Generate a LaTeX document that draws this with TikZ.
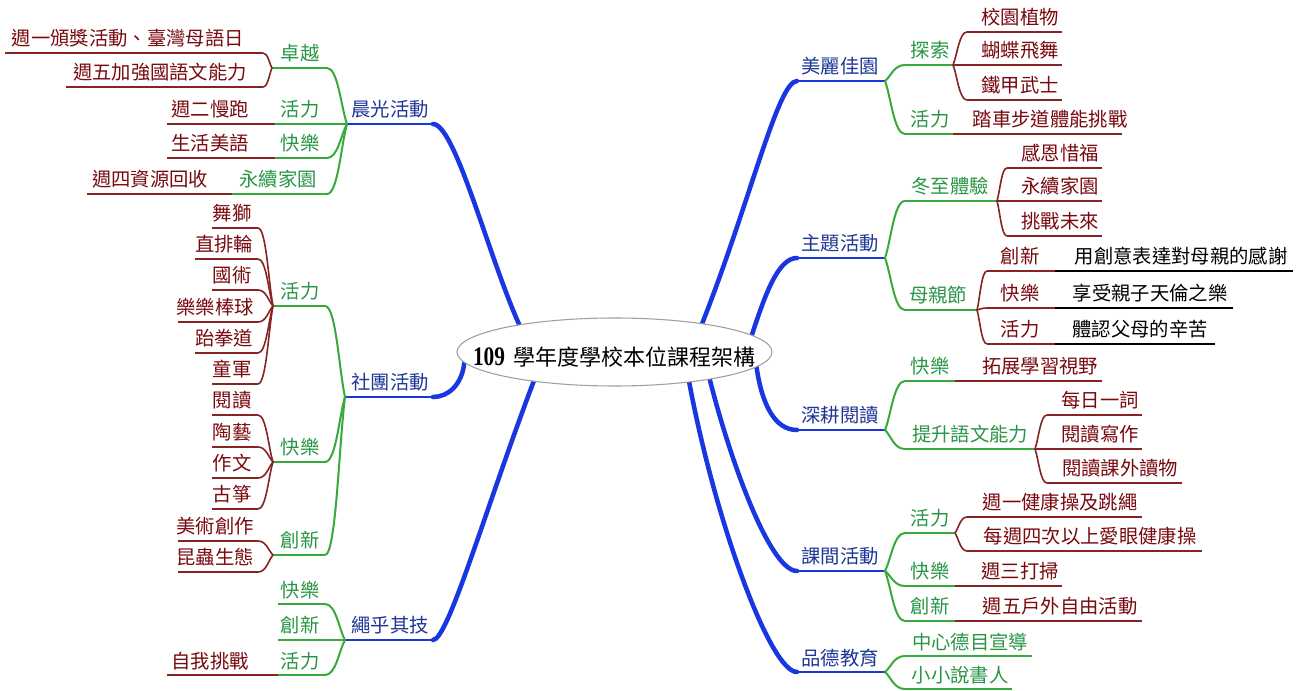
\documentclass[tikz,border=0pt]{standalone}
\usepackage{fontspec}
\usetikzlibrary{shapes.geometric,calc}
\newfontfamily\cjk{Noto Sans CJK TC}
\newfontfamily\numfont[FakeStretch=0.8]{Liberation Serif}
\definecolor{mblue}{RGB}{25,55,225}
\definecolor{tblue}{RGB}{30,55,150}
\definecolor{sgreen}{RGB}{55,170,60}
\definecolor{tgreen}{RGB}{40,150,70}
\definecolor{lred}{RGB}{135,35,35}
\definecolor{tred}{RGB}{120,10,15}
\tikzset{
  mthick/.style={mblue,line width=3.4pt,line cap=round},
  mline/.style={mblue,line width=1.9pt},
  sline/.style={sgreen,line width=1.5pt},
  lline/.style={lred,line width=1.2pt},
  kline/.style={black,line width=1pt},
  basetext/.style={anchor=base,inner sep=0pt,font=\cjk\fontsize{14.5pt}{16pt}\selectfont},
  mtext/.style={basetext,text=tblue},
  stext/.style={basetext,text=tgreen},
  ltext/.style={basetext,text=tred},
  ktext/.style={basetext,text=black},
}
% #1 name, #2 kind, #3 left x, #4 right x, #5 y, #6 text x, #7 text
\newcommand\br[7]{%
  \coordinate (#1-l) at (#3,#5);
  \coordinate (#1-r) at (#4,#5);
  \draw[#2line] (#1-l) -- (#1-r);
  \node[#2text] (#1) at (#6,#5-7) {#7};
}
\newcommand\cn[3]{\draw[#1] (#2) .. controls ($(#2)!0.3!(#3)$) and ($(#3)!0.55!(#2|-#3)$) .. (#3);}
\begin{document}
\begin{tikzpicture}[x=0.75pt,y=-0.75pt]
\useasboundingbox (0,0) rectangle (1304,691);
\fill[white] (0,0) rectangle (1304,691);

% ---------- left main branches
\br{m1}{m}{347}{433}{124}{390}{晨光活動}
\br{m2}{m}{345}{433}{397}{390}{社團活動}
\br{m3}{m}{345}{433}{640}{390}{繩乎其技}
% ---------- right main branches
\br{r1}{m}{797}{885}{81}{840}{美麗佳園}
\br{r2}{m}{797}{885}{258}{840}{主題活動}
\br{r3}{m}{797}{885}{430}{840}{深耕閱讀}
\br{r4}{m}{797}{885}{571}{840}{課間活動}
\br{r5}{m}{797}{885}{672}{840}{品德教育}

% root ellipse (shape only)
\node[ellipse,minimum width=236.25pt,minimum height=51pt,inner sep=0pt] (root) at (614.5,352) {};

\draw[mthick] (root.164) .. controls (488,255) and (455,124) .. (m1-r);
\draw[mthick] (root.184) .. controls (462,385) and (448,397) .. (m2-r);
\draw[mthick] (root.200) .. controls (485,510) and (448,640) .. (m3-r);
\draw[mthick] (root.18) .. controls (750,202) and (778,81) .. (r1-l);
\draw[mthick] (root.7) .. controls (765,295) and (778,258) .. (r2-l);
\draw[mthick] (root.354) .. controls (762,405) and (775,430) .. (r3-l);
\draw[mthick] (root.344) .. controls (730,460) and (770,571) .. (r4-l);
\draw[mthick] (root.338) .. controls (715,520) and (770,672) .. (r5-l);

\node[ellipse,draw=gray!75,fill=white,line width=0.8pt,minimum width=236.25pt,minimum height=51pt,inner sep=0pt] (rootshape) at (614.5,352) {};
\node[anchor=base,inner sep=0pt] (title) at (614,366)
  {\numfont\bfseries\fontsize{20pt}{22pt}\selectfont 109\hspace{6pt}\cjk\mdseries\fontsize{16.5pt}{18pt}\selectfont 學年度學校本位課程架構};

% ---------- 晨光活動
\br{s11}{s}{272}{327}{68}{300}{卓越}
\br{s12}{s}{275}{347}{124}{300}{活力}
\br{s13}{s}{275}{327}{158}{300}{快樂}
\br{s14}{s}{232}{327}{194}{278}{永續家園}
\cn{sline}{m1-l}{s11-r}
\cn{sline}{m1-l}{s13-r}
\cn{sline}{m1-l}{s14-r}
\br{l111}{l}{5}{263}{53}{128}{週一頒獎活動、臺灣母語日}
\br{l112}{l}{66}{263}{87}{160}{週五加強國語文能力}
\cn{lline}{s11-l}{l111-r}
\cn{lline}{s11-l}{l112-r}
\br{l121}{l}{167}{275}{124}{210}{週二慢跑}
\br{l131}{l}{167}{275}{158}{210}{生活美語}
\br{l141}{l}{87}{232}{194}{150}{週四資源回收}

% ---------- 社團活動
\br{s21}{s}{273}{325}{306}{300}{活力}
\br{s22}{s}{273}{325}{462}{300}{快樂}
\br{s23}{s}{273}{325}{555}{300}{創新}
\cn{sline}{m2-l}{s21-r}
\cn{sline}{m2-l}{s22-r}
\cn{sline}{m2-l}{s23-r}
\br{l211}{l}{212}{258}{228}{232}{舞獅}
\br{l212}{l}{195}{258}{259}{224}{直排輪}
\br{l213}{l}{212}{258}{290}{232}{國術}
\br{l214}{l}{178}{258}{322}{215}{樂樂棒球}
\br{l215}{l}{195}{258}{353}{224}{跆拳道}
\br{l216}{l}{212}{258}{384}{232}{童軍}
\foreach \k in {l211,l212,l213,l214,l215,l216}{\cn{lline}{s21-l}{\k-r}}
\br{l221}{l}{212}{258}{415}{232}{閱讀}
\br{l222}{l}{212}{258}{447}{232}{陶藝}
\br{l223}{l}{212}{258}{478}{232}{作文}
\br{l224}{l}{212}{258}{509}{232}{古箏}
\foreach \k in {l221,l222,l223,l224}{\cn{lline}{s22-l}{\k-r}}
\br{l231}{l}{178}{258}{541}{215}{美術創作}
\br{l232}{l}{178}{258}{572}{215}{昆蟲生態}
\foreach \k in {l231,l232}{\cn{lline}{s23-l}{\k-r}}

% ---------- 繩乎其技
\br{s31}{s}{278}{325}{604}{300}{快樂}
\br{s32}{s}{278}{345}{640}{300}{創新}
\br{s33}{s}{278}{325}{675}{300}{活力}
\cn{sline}{m3-l}{s31-r}
\cn{sline}{m3-l}{s33-r}
\br{l331}{l}{167}{278}{675}{210}{自我挑戰}

% ---------- 美麗佳園
\br{t11}{s}{905}{953}{65}{930}{探索}
\br{t12}{s}{905}{953}{134}{930}{活力}
\cn{sline}{r1-r}{t11-l}
\cn{sline}{r1-r}{t12-l}
\br{u111}{l}{967}{1062}{32}{1020}{校園植物}
\br{u112}{l}{953}{1062}{65}{1020}{蝴蝶飛舞}
\br{u113}{l}{967}{1062}{100}{1020}{鐵甲武士}
\cn{lline}{t11-r}{u111-l}
\cn{lline}{t11-r}{u113-l}
\br{u121}{l}{953}{1122}{134}{1050}{踏車步道體能挑戰}

% ---------- 主題活動
\br{t21}{s}{905}{997}{201}{950}{冬至體驗}
\br{t22}{s}{905}{977}{310}{938}{母親節}
\cn{sline}{r2-r}{t21-l}
\cn{sline}{r2-r}{t22-l}
\br{u211}{l}{1007}{1102}{168}{1060}{感恩惜福}
\br{u212}{l}{997}{1102}{201}{1060}{永續家園}
\br{u213}{l}{1007}{1102}{236}{1060}{挑戰未來}
\cn{lline}{t21-r}{u211-l}
\cn{lline}{t21-r}{u213-l}
\br{u221}{l}{987}{1055}{271}{1020}{創新}
\br{u222}{l}{987}{1055}{308}{1020}{快樂}
\br{u223}{l}{987}{1055}{344}{1020}{活力}
\cn{lline}{t22-r}{u221-l}
\cn{lline}{t22-r}{u222-l}
\cn{lline}{t22-r}{u223-l}
\br{v221}{k}{1055}{1293}{271}{1181}{用創意表達對母親的感謝}
\br{v222}{k}{1055}{1233}{308}{1150}{享受親子天倫之樂}
\br{v223}{k}{1055}{1215}{344}{1140}{體認父母的辛苦}

% ---------- 深耕閱讀
\br{t31}{s}{905}{955}{381}{930}{快樂}
\br{t32}{s}{905}{1035}{449}{970}{提升語文能力}
\cn{sline}{r3-r}{t31-l}
\cn{sline}{r3-r}{t32-l}
\br{u311}{l}{955}{1102}{381}{1040}{拓展學習視野}
\br{u321}{l}{1047}{1142}{415}{1100}{每日一詞}
\br{u322}{l}{1035}{1142}{449}{1100}{閱讀寫作}
\br{u323}{l}{1047}{1182}{483}{1120}{閱讀課外讀物}
\cn{lline}{t32-r}{u321-l}
\cn{lline}{t32-r}{u323-l}

% ---------- 課間活動
\br{t41}{s}{905}{955}{533}{930}{活力}
\br{t42}{s}{905}{955}{586}{930}{快樂}
\br{t43}{s}{905}{955}{621}{930}{創新}
\cn{sline}{r4-r}{t41-l}
\cn{sline}{r4-r}{t42-l}
\cn{sline}{r4-r}{t43-l}
\br{u411}{l}{967}{1142}{517}{1060}{週一健康操及跳繩}
\br{u412}{l}{967}{1202}{551}{1090}{每週四次以上愛眼健康操}
\cn{lline}{t41-r}{u411-l}
\cn{lline}{t41-r}{u412-l}
\br{u421}{l}{955}{1062}{586}{1020}{週三打掃}
\br{u431}{l}{955}{1142}{621}{1060}{週五戶外自由活動}

% ---------- 品德教育
\br{t51}{s}{905}{1032}{656}{970}{中心德目宣導}
\br{t52}{s}{905}{1012}{689}{960}{小小說書人}
\cn{sline}{r5-r}{t51-l}
\cn{sline}{r5-r}{t52-l}
\end{tikzpicture}
\end{document}
